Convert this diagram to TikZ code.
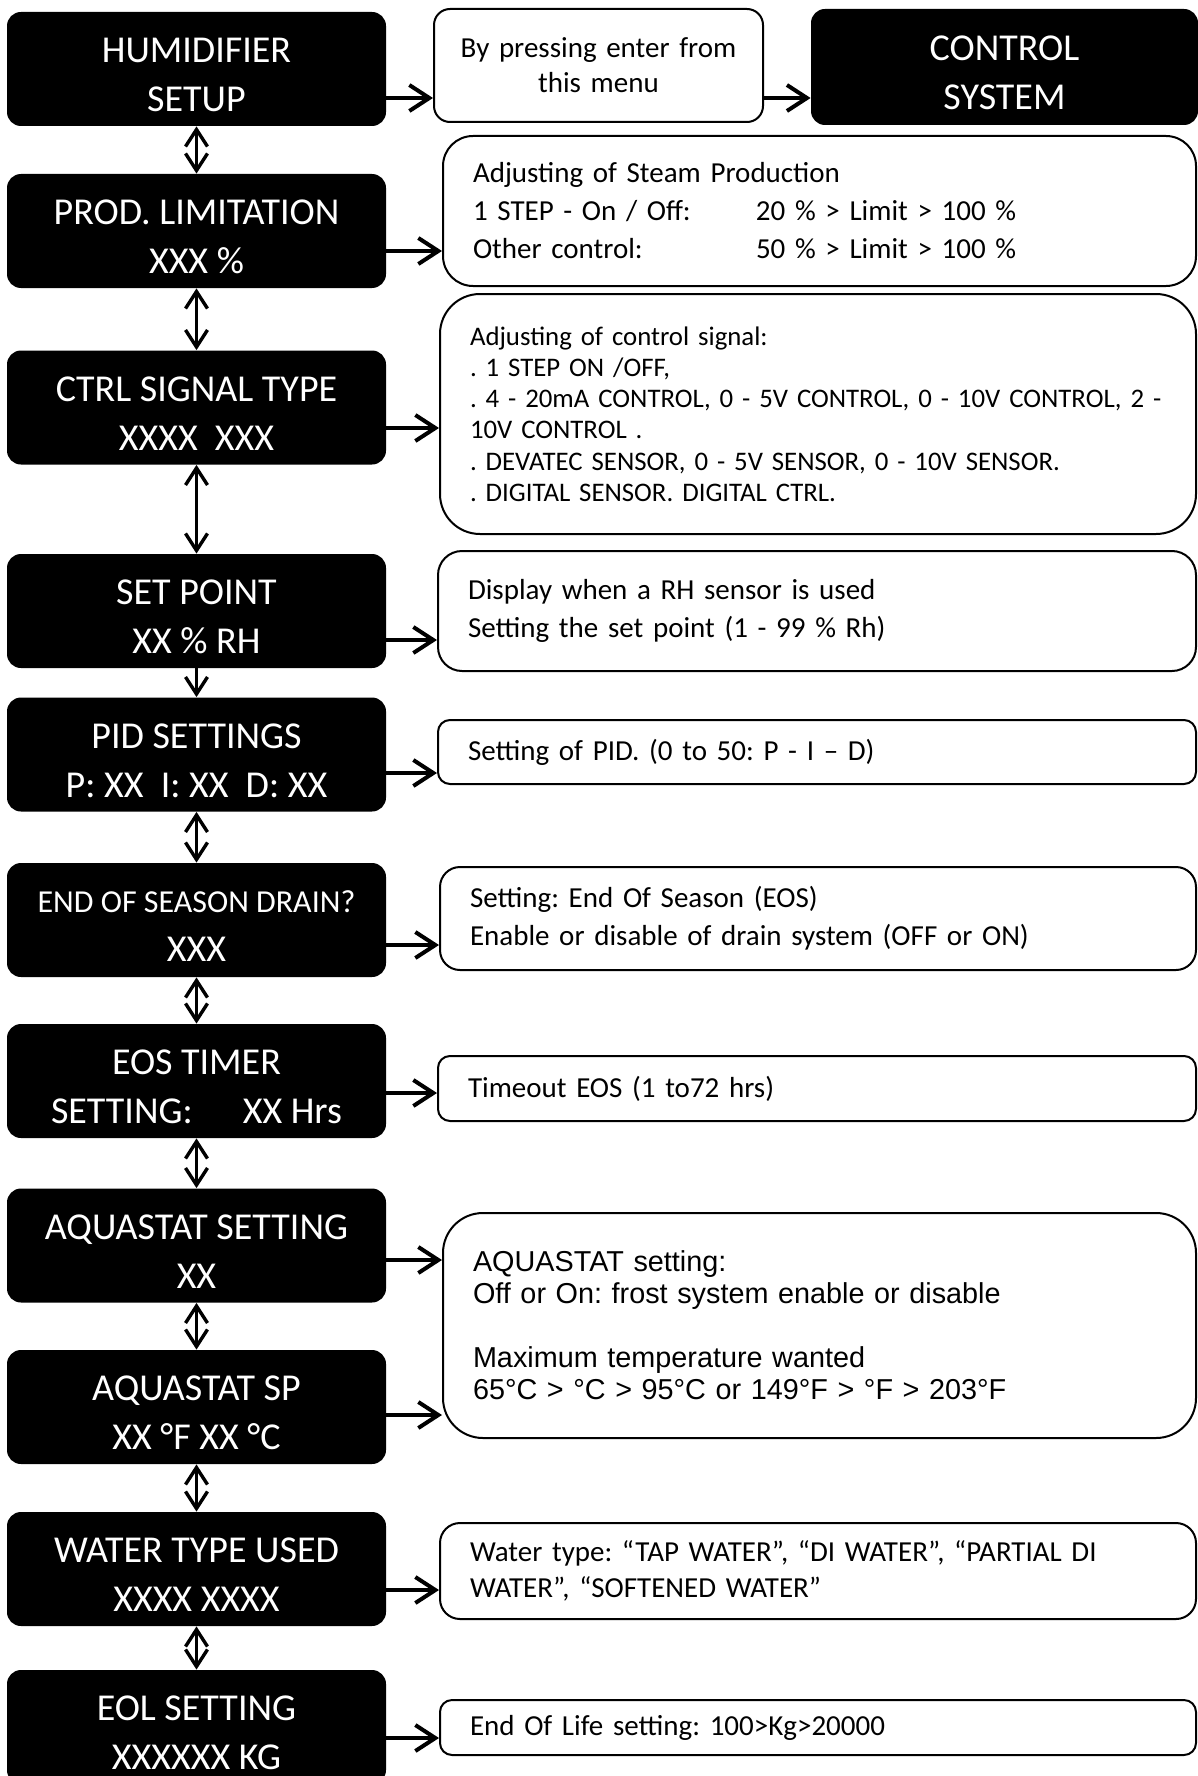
\documentclass[tikz,border=0pt]{standalone}
\usepackage{fontspec}
\setmainfont{Carlito}
\newfontfamily\arialfont{Liberation Sans}
\usetikzlibrary{arrows.meta}
\frenchspacing

\begin{document}
\begin{tikzpicture}[x=0.5pt, y=-0.5pt,
		menu/.style={fill=black, rounded corners=7pt, minimum width=189.5pt,
			minimum height=57pt, inner sep=0pt},
		menutext/.style={text=white, inner sep=0pt, align=center, yshift=-3pt,
			font=\fontsize{19}{24.4}\selectfont},
		note/.style={draw, line width=1pt, fill=white, inner xsep=15pt, inner ysep=0pt,
			align=left, font=\fontsize{14.5}{19}\selectfont},
		go/.style={-{Straight Barb[length=10pt, width=13pt, line width=2pt]}, line width=2pt, line cap=round},
		updown/.style={{Straight Barb[length=8.5pt, width=11pt, line width=1.7pt]}-{Straight Barb[length=8.5pt, width=11pt, line width=1.7pt]}, line width=1.1pt},
		down/.style={-{Straight Barb[length=8.5pt, width=11pt, line width=1.7pt]}, line width=1.1pt}]
		\useasboundingbox (0,0) rectangle (1198,1776);
		\clip (0,0) rectangle (1198,1776);
		% menu column
		\node[menu, label={[menutext]center:HUMIDIFIER\\SETUP}] (hum) at (196.5,69) {};
		\node[menu, label={[menutext]center:PROD. LIMITATION\\XXX \%}] (prod) at (196.5,231) {};
		\node[menu, label={[menutext]center:CTRL SIGNAL TYPE\\XXXX\ \ XXX}] (ctrl) at (196.5,407.5) {};
		\node[menu, label={[menutext]center:SET POINT\\XX \% RH}] (setp) at (196.5,611) {};
		\node[menu, label={[menutext]center:PID SETTINGS\\P: XX\ \ I: XX\ \ D: XX}] (pid) at (196.5,754.5) {};
		\node[menu, label={[menutext]center:{\fontsize{16}{24.4}\selectfont END OF SEASON DRAIN?}\\XXX}] (eos) at (196.5,920) {};
		\node[menu, label={[menutext]center:EOS TIMER\\SETTING:\hspace{25pt}XX Hrs}] (timer) at (196.5,1081) {};
		\node[menu, label={[menutext]center:AQUASTAT SETTING\\XX}] (aqua) at (196.5,1245.5) {};
		\node[menu, label={[menutext]center:AQUASTAT SP\\XX °F XX °C}] (aqsp) at (196.5,1407) {};
		\node[menu, label={[menutext]center:WATER TYPE USED\\XXXX XXXX}] (water) at (196.5,1569) {};
		\node[menu, label={[menutext]center:EOL SETTING\\XXXXXX KG}] (eol) at (196.5,1727) {};
		\node[menu, minimum width=193.5pt, minimum height=58pt,
			label={[menutext]center:CONTROL\\SYSTEM}] (ctls) at (1004.5,67) {};
		% notes
		\node[note, align=center, rounded corners=8pt, inner xsep=4pt, text width=156.5pt, minimum height=56.5pt,
			font=\fontsize{14.5}{17.5}\selectfont] (press) at (598.5,65.5)
			{By pressing enter from\\this menu};
		\node[note, rounded corners=15pt, text width=346.5pt, minimum height=75pt] (steam) at (819.5,211)
			{Adjusting of Steam Production\\
			\makebox[141.5pt][l]{1 STEP - On / Off:}20 \% > Limit > 100 \%\\
			\makebox[141.5pt][l]{Other control:}50 \% > Limit > 100 \%};
		\node[note, rounded corners=20pt, text width=348pt, minimum height=120pt,
			font=\fontsize{13.4}{15.6}\selectfont] (sig) at (818,414)
			{Adjusting of control signal:\\
			. 1 STEP ON /OFF,\\
			. 4 - 20mA CONTROL, 0 - 5V CONTROL, 0 - 10V CONTROL, 2 -\\
			10V CONTROL .\\
			. DEVATEC SENSOR, 0 - 5V SENSOR, 0 - 10V SENSOR.\\
			. DIGITAL SENSOR. DIGITAL CTRL.};
		\node[note, rounded corners=12pt, text width=349pt, minimum height=60pt] (spt) at (817,611)
			{Display when a RH sensor is used\\Setting the set point (1 - 99 \% Rh)};
		\node[note, rounded corners=6pt, text width=349pt, minimum height=32pt] (pidt) at (817,752)
			{Setting of PID. (0 to 50: P - I – D)};
		\node[note, rounded corners=10pt, text width=348pt, minimum height=51.5pt] (eost) at (818,918.5)
			{Setting: End Of Season (EOS)\\Enable or disable of drain system (OFF or ON)};
		\node[note, rounded corners=6pt, text width=349pt, minimum height=32.5pt] (tmo) at (817,1088.5)
			{Timeout EOS (1 to72 hrs)};
		\node[note, rounded corners=20pt, text width=346.5pt, minimum height=112.5pt,
			font=\arialfont\fontsize{14.4}{16}\selectfont] (aqt) at (819.5,1325.5)
			{AQUASTAT setting:\\Off or On: frost system enable or disable\\[16pt]
			Maximum temperature wanted\\65°C > °C > 95°C or 149°F > °F > 203°F};
		\node[note, rounded corners=10pt, text width=348pt, minimum height=48pt,
			font=\fontsize{14.5}{18}\selectfont] (wat) at (818,1571)
			{Water type: “TAP WATER”, “DI WATER”, “PARTIAL DI\\WATER”, “SOFTENED WATER”};
		\node[note, rounded corners=6pt, text width=348pt, minimum height=27.5pt] (eolt) at (818,1727.5)
			{End Of Life setting: 100>Kg>20000};
		% horizontal arrows
		\draw[go] (hum.east |- 0,98) -- (press.west |- 0,98);
		\draw[go] (press.east |- 0,98) -- (ctls.west |- 0,98);
		\draw[go] (prod.east |- 0,251) -- (steam.west |- 0,251);
		\draw[go] (ctrl.east |- 0,428) -- (sig.west |- 0,428);
		\draw[go] (setp.east |- 0,640) -- (spt.west |- 0,640);
		\draw[go] (pid.east |- 0,773) -- (pidt.west |- 0,773);
		\draw[go] (eos.east |- 0,945) -- (eost.west |- 0,945);
		\draw[go] (timer.east |- 0,1093) -- (tmo.west |- 0,1093);
		\draw[go] (aqua.east |- 0,1260) -- (aqt.west |- 0,1260);
		\draw[go] (aqsp.east |- 0,1415) -- (aqt.west |- 0,1415);
		\draw[go] (water.east |- 0,1590) -- (wat.west |- 0,1590);
		\draw[go] (eol.east |- 0,1738) -- (eolt.west |- 0,1738);
		% vertical arrows
		\draw[updown] (hum.south) -- (prod.north);
		\draw[updown] (prod.south) -- (ctrl.north);
		\draw[updown] (ctrl.south) -- (setp.north);
		\draw[down] (setp.south) -- (pid.north);
		\draw[updown] (pid.south) -- (eos.north);
		\draw[updown] (eos.south) -- (timer.north);
		\draw[updown] (timer.south) -- (aqua.north);
		\draw[updown] (aqua.south) -- (aqsp.north);
		\draw[updown] (aqsp.south) -- (water.north);
		\draw[updown] (water.south) -- (eol.north);
	\end{tikzpicture}
\end{document}
